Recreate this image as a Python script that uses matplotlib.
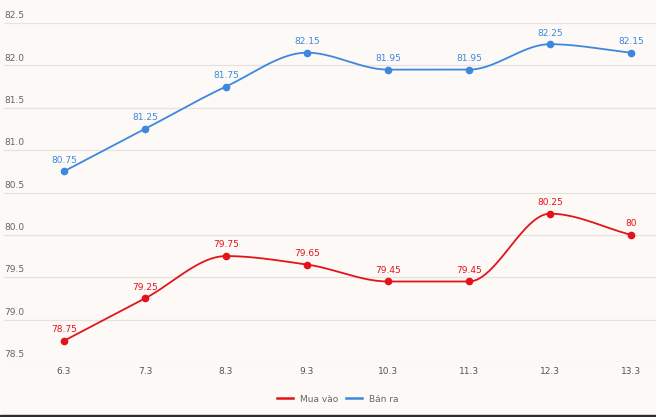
import numpy as np
import matplotlib
matplotlib.use("Agg")
import matplotlib.pyplot as plt
import matplotlib.transforms as mtrans
from matplotlib.lines import Line2D

dates = ["6.3", "7.3", "8.3", "9.3", "10.3", "11.3", "12.3", "13.3"]
mua_vao = [78.75, 79.25, 79.75, 79.65, 79.45, 79.45, 80.25, 80.00]
ban_ra = [80.75, 81.25, 81.75, 82.15, 81.95, 81.95, 82.25, 82.15]
mua_labels = ["78.75", "79.25", "79.75", "79.65", "79.45", "79.45", "80.25", "80"]
ban_labels = ["80.75", "81.25", "81.75", "82.15", "81.95", "81.95", "82.25", "82.15"]
y_ticks = [78.5, 79.0, 79.5, 80.0, 80.5, 81.0, 81.5, 82.0, 82.5]

RED = "#E3131B"
BLUE = "#3C88DF"
BG = "#FDF9F6"


# monotone cubic (Fritsch-Carlson) used only to draw a smooth line
def smooth(x, y, n=40):
    x = np.asarray(x, float)
    y = np.asarray(y, float)
    h = np.diff(x)
    d = np.diff(y) / h
    m = np.zeros_like(y)
    m[0], m[-1] = d[0], d[-1]
    for k in range(1, len(y) - 1):
        if d[k - 1] * d[k] <= 0:
            m[k] = 0
        else:
            w1 = 2 * h[k] + h[k - 1]
            w2 = h[k] + 2 * h[k - 1]
            m[k] = (w1 + w2) / (w1 / d[k - 1] + w2 / d[k])
    xs, ys = [], []
    for k in range(len(x) - 1):
        t = np.linspace(0, 1, n)
        h00 = 2 * t**3 - 3 * t**2 + 1
        h10 = t**3 - 2 * t**2 + t
        h01 = -2 * t**3 + 3 * t**2
        h11 = t**3 - t**2
        xs.append(x[k] + t * h[k])
        ys.append(h00 * y[k] + h10 * h[k] * m[k] + h01 * y[k + 1] + h11 * h[k] * m[k + 1])
    return np.concatenate(xs), np.concatenate(ys)


fig = plt.figure(figsize=(6.56, 4.17), dpi=100, facecolor=BG)
# gridline 82.5 at y=23px, 78.5 at y=362px
ax = fig.add_axes([0, (417 - 362) / 417, 1, 339 / 417])
ax.set_facecolor(BG)
for s in ax.spines.values():
    s.set_visible(False)

x = np.arange(len(dates))
ax.set_xlim(-64 / 81, 7 + 25 / 81)
ax.set_ylim(78.5, 82.5)
ax.set_xticks([])
ax.set_yticks([])

trans_lbl = mtrans.blended_transform_factory(ax.transAxes, ax.transData) + \
    mtrans.ScaledTranslation(0, 2 / 72, fig.dpi_scale_trans)
for v in y_ticks:
    ax.axhline(v, xmin=4 / 656, xmax=1, color="#E6E2DF", lw=0.9, zorder=0)
    ax.text(4 / 656, v, f"{v:.1f}", transform=trans_lbl, ha="left", va="bottom",
            fontsize=6.5, color="#666666")

for xi, d in zip(x, dates):
    ax.annotate(d, (xi, 78.5), xytext=(0, -6.5), textcoords="offset points",
                ha="center", va="center", fontsize=6.5, color="#555555")

for vals, labels, col in [(mua_vao, mua_labels, RED), (ban_ra, ban_labels, BLUE)]:
    sx, sy = smooth(x, vals)
    ax.plot(sx, sy, color=col, lw=1.3, zorder=3, clip_on=False)
    ax.plot(x, vals, "o", color=col, ms=4.5, zorder=4, clip_on=False)
    for xi, v, lab in zip(x, vals, labels):
        ax.annotate(lab, (xi, v), xytext=(0, 8), textcoords="offset points",
                    ha="center", va="center", fontsize=6.5, color=col)

handles = [Line2D([], [], color=RED, lw=1.8), Line2D([], [], color=BLUE, lw=1.8)]
leg = fig.legend(handles, ["Mua vào", "Bán ra"], loc="center", bbox_to_anchor=(338 / 656, 18 / 417),
                 ncol=2, frameon=False, fontsize=6.5, handlelength=1.7, columnspacing=0.9,
                 handletextpad=0.8)
for t in leg.get_texts():
    t.set_color("#666666")

fig.patches.append(plt.Rectangle((0, 0), 1, 2 / 417, transform=fig.transFigure,
                                 color="#2A2E2C", zorder=10))

fig.savefig("out.png", dpi=100, facecolor=BG)
